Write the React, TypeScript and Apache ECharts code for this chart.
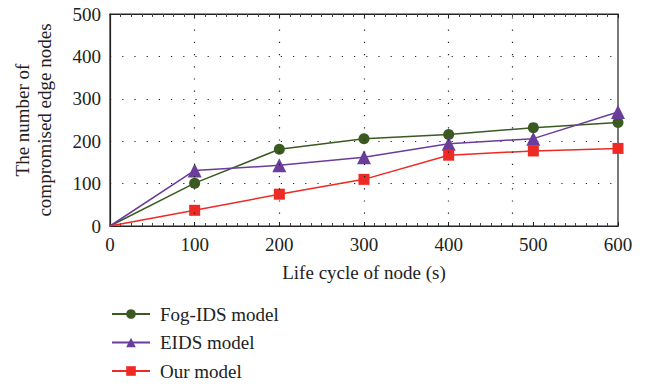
import React, { useEffect, useRef } from "react";
import * as echarts from "echarts";

const xValues = [0, 100, 200, 300, 400, 500, 600];
const fogIds = [0, 101, 181, 206, 216, 232, 244];
const eids = [0, 131, 143, 162, 194, 206, 269];
const ourModel = [0, 37, 75, 110, 167, 177, 183];
const seriesNames = ["Fog-IDS model", "EIDS model", "Our model"];
const gridXLines = [100, 200, 300, 400, 475];

const FONT = "Liberation Serif";

export default function App() {
  const ref = useRef<HTMLDivElement>(null);
  useEffect(() => {
    if (!ref.current) return;
    const chart = echarts.init(ref.current, null, { renderer: "svg" });
    const dotted = { color: "#222", width: 1.2, type: [1.2, 11] as any };
    const pairs = (ys: number[]) =>
      xValues.map((x, i) => (x === 0 ? { value: [x, ys[i]], symbol: "none" } : [x, ys[i]]));
    chart.setOption({
      animation: false,
      backgroundColor: "#fff",
      textStyle: { fontFamily: FONT },
      grid: {
        left: 110,
        right: 33,
        top: 14,
        bottom: 161,
        show: true,
        borderColor: "#222",
        borderWidth: 1.2,
      },
      legend: {
        orient: "vertical",
        left: 106,
        top: 299,
        height: 86,
        itemWidth: 38,
        itemHeight: 12,
        itemGap: 8.5,
        textStyle: {
          fontFamily: FONT,
          fontSize: 19,
          lineHeight: 20,
          color: "#222",
          padding: [0, 0, 0, 5],
        },
        data: seriesNames,
      },
      xAxis: [
        {
          type: "value",
          min: 0,
          max: 600,
          interval: 100,
          name: "Life cycle of node (s)",
          nameLocation: "middle",
          nameGap: 37,
          nameTextStyle: { fontFamily: FONT, fontSize: 19, color: "#222" },
          axisLine: { show: true, lineStyle: { color: "#222", width: 1.2 } },
          axisTick: { show: true, inside: true, length: 4, lineStyle: { color: "#222" } },
          minorTick: { show: true, splitNumber: 8, length: 3, lineStyle: { color: "#444" } },
          axisLabel: { fontFamily: FONT, fontSize: 19, color: "#222", margin: 9 },
          splitLine: { show: false },
        },
        {
          type: "value",
          position: "top",
          min: 0,
          max: 600,
          interval: 100,
          axisLine: { show: true, lineStyle: { color: "#222", width: 1.2 } },
          axisTick: { show: true, inside: true, length: 4, lineStyle: { color: "#222" } },
          minorTick: { show: true, splitNumber: 8, length: 3, lineStyle: { color: "#444" } },
          axisLabel: { show: false },
          splitLine: { show: false },
        },
      ],
      yAxis: {
        type: "value",
        min: 0,
        max: 500,
        interval: 100,
        name: "The number of\ncompromised edge nodes",
        nameLocation: "middle",
        nameGap: 55,
        nameTextStyle: { fontFamily: FONT, fontSize: 19, color: "#222", lineHeight: 22 },
        axisLine: { show: true, lineStyle: { color: "#222", width: 1.2 } },
        axisTick: { show: false },
        axisLabel: { fontFamily: FONT, fontSize: 19, color: "#222", margin: 9 },
        splitLine: { show: true, lineStyle: dotted },
      },
      series: [
        {
          name: seriesNames[0],
          type: "line",
          data: pairs(fogIds),
          color: "#3b5a22",
          symbol: "circle",
          symbolSize: 11,
          lineStyle: { width: 1.5 },
          markLine: {
            silent: true,
            symbol: "none",
            label: { show: false },
            lineStyle: dotted,
            data: gridXLines.map((v) => ({ xAxis: v })),
          },
          z: 3,
        },
        {
          name: seriesNames[1],
          type: "line",
          data: pairs(eids),
          color: "#6a3d9a",
          symbol: "triangle",
          symbolSize: 14,
          lineStyle: { width: 1.5 },
          z: 3,
        },
        {
          name: seriesNames[2],
          type: "line",
          data: pairs(ourModel),
          color: "#ee2a24",
          symbol: "rect",
          symbolSize: 11,
          lineStyle: { width: 1.5 },
          z: 3,
        },
      ],
    });
    return () => chart.dispose();
  }, []);
  return (
    <div
      ref={ref}
      style={{ position: "fixed", left: 0, top: 0, width: 651, height: 387 }}
    />
  );
}
